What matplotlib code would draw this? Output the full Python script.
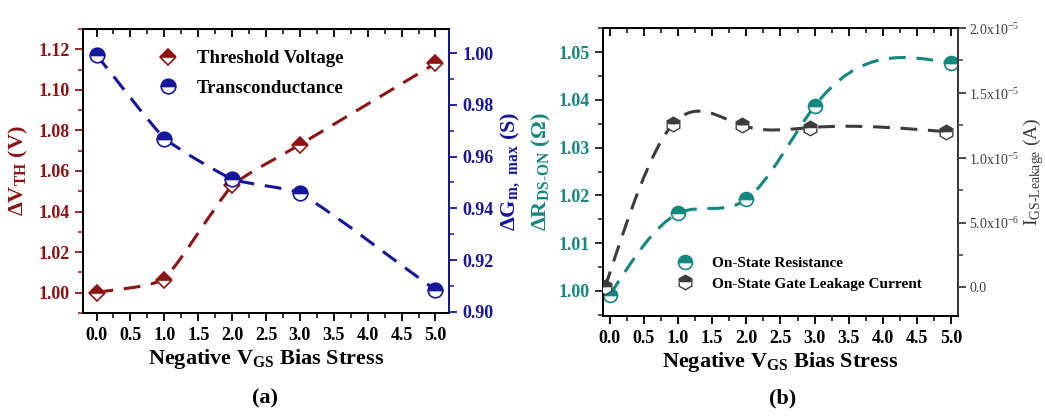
import numpy as np
import matplotlib
matplotlib.use("Agg")
import matplotlib.pyplot as plt
from matplotlib.path import Path
from matplotlib.patches import PathPatch
from matplotlib.ticker import MultipleLocator, FormatStrFormatter

plt.rcParams['font.family'] = ['Liberation Serif', 'DejaVu Serif']
plt.rcParams['mathtext.fontset'] = 'custom'
plt.rcParams['mathtext.rm'] = 'Liberation Serif'
plt.rcParams['mathtext.bf'] = 'Liberation Serif:bold'

# ---- data ----
stress = [0, 1, 2, 3, 5]
vth = [1.000, 1.0065, 1.053, 1.073, 1.113]
gm = [0.9993, 0.967, 0.9512, 0.946, 0.9084]

ron_x = [0, 1, 2, 3, 5]
ron = [0.9991, 1.0162, 1.0192, 1.0387, 1.0477]
leak_x = [-0.07, 0.93, 1.93, 2.93, 4.93]
leak = [0.0, 1.262e-5, 1.25e-5, 1.232e-5, 1.20e-5]

leak_ticks = [0, 5e-6, 1e-5, 1.5e-5, 2e-5]
leak_ticklabels = ['0.0', r'5.0x10$^{\mathregular{-6}}$', r'1.0x10$^{\mathregular{-5}}$',
                   r'1.5x10$^{\mathregular{-5}}$', r'2.0x10$^{\mathregular{-5}}$']

RED = '#8c1414'
BLUE = '#16169c'
TEAL = '#14877e'
GREY = '#3c3c3c'


def natural_slopes(x, y):
    n = len(x)
    h = np.diff(x)
    A = np.zeros((n, n))
    b = np.zeros(n)
    A[0, 0] = A[-1, -1] = 1
    for i in range(1, n - 1):
        A[i, i - 1] = h[i - 1]
        A[i, i] = 2 * (h[i - 1] + h[i])
        A[i, i + 1] = h[i]
        b[i] = 6 * ((y[i + 1] - y[i]) / h[i] - (y[i] - y[i - 1]) / h[i - 1])
    M = np.linalg.solve(A, b)
    s = np.diff(y) / h
    d0 = s - h * (2 * M[:-1] + M[1:]) / 6
    d1 = s + h * (M[:-1] + 2 * M[1:]) / 6
    return d0, d1


def cardinal_slopes(x, y, c):
    s = np.diff(y) / np.diff(x)
    m = np.empty(len(x))
    m[0], m[-1] = s[0], s[-1]
    m[1:-1] = c * (y[2:] - y[:-2]) / (x[2:] - x[:-2]) + (1 - c) * 0.5 * (s[:-1] + s[1:])
    return m[:-1], m[1:]


def curve_path(x, y, tension=None):
    # smooth connecting curve through the points, as bezier segments
    x = np.asarray(x, float)
    y = np.asarray(y, float)
    h = np.diff(x)
    if tension is None:
        d0, d1 = natural_slopes(x, y)
    else:
        d0, d1 = cardinal_slopes(x, y, tension)
        s = np.diff(y) / h
        d0 = tension * d0 + (1 - tension) * s
        d1 = tension * d1 + (1 - tension) * s
    verts = [(x[0], y[0])]
    codes = [Path.MOVETO]
    for i in range(len(x) - 1):
        verts += [(x[i] + h[i] / 3, y[i] + h[i] / 3 * d0[i]),
                  (x[i + 1] - h[i] / 3, y[i + 1] - h[i] / 3 * d1[i]),
                  (x[i + 1], y[i + 1])]
        codes += [Path.CURVE4] * 3
    return Path(verts, codes)


def dashed(ax, x, y, color, tension=None):
    ax.add_patch(PathPatch(curve_path(x, y, tension), fill=False, ec=color, lw=2.2,
                           ls=(0, (5.5, 3.5)), zorder=2))


def style_x(ax, lim):
    ax.set_xlim(*lim)
    ax.xaxis.set_major_locator(MultipleLocator(0.5))
    ax.xaxis.set_minor_locator(MultipleLocator(0.25))
    ax.xaxis.set_major_formatter(FormatStrFormatter('%.1f'))
    ax.tick_params(axis='x', which='major', direction='out', length=6, width=1.3,
                   labelsize=13, pad=4)
    ax.tick_params(axis='x', which='minor', direction='out', length=3.5, width=1.1)
    for t in ax.get_xticklabels():
        t.set_fontweight('bold')
    top = ax.secondary_xaxis('top')
    top.xaxis.set_major_locator(MultipleLocator(0.5))
    top.xaxis.set_minor_locator(MultipleLocator(0.25))
    top.tick_params(which='major', direction='in', length=6, width=1.3, labeltop=False)
    top.tick_params(which='minor', direction='in', length=3.5, width=1.1)
    ax.set_xlabel(r'Negative V$_\mathregular{GS}$ Bias Stress', fontsize=16,
                  fontweight='bold', labelpad=2)


def style_y(ax, color, side, major, minor):
    ax.yaxis.set_major_locator(MultipleLocator(major))
    ax.yaxis.set_minor_locator(MultipleLocator(minor))
    ax.tick_params(axis='y', which='major', direction='out', length=6, width=1.3,
                   colors=color, labelsize=13)
    ax.tick_params(axis='y', which='minor', direction='out', length=3.5, width=1.1,
                   colors=color)
    ax.spines[side].set_color(color)


fig = plt.figure(figsize=(10.45, 4.17), dpi=100)

# ---------------- panel (a) ----------------
ax1 = fig.add_axes([0.0794, 0.2494, 0.3503, 0.6811])
ax2 = ax1.twinx()
for a in (ax1, ax2):
    for s in a.spines.values():
        s.set_linewidth(1.4)

ax1.set_ylim(0.99, 1.13)
ax2.set_ylim(0.8995, 1.0094)
style_x(ax1, (-0.2, 5.2))
style_y(ax1, RED, 'left', 0.02, 0.01)
style_y(ax2, BLUE, 'right', 0.02, 0.01)
ax1.yaxis.set_major_formatter(FormatStrFormatter('%.2f'))
ax2.yaxis.set_major_formatter(FormatStrFormatter('%.2f'))
for t in ax1.get_yticklabels() + ax2.get_yticklabels():
    t.set_fontweight('bold')

dashed(ax1, stress, vth, RED, tension=0.35)
dashed(ax2, stress, gm, BLUE, tension=0.35)
ax1.plot(stress, vth, ls='none', marker='D', ms=8, fillstyle='top', mfc=RED,
         mfcalt='white', mec=RED, mew=1.2, zorder=3, label='Threshold Voltage')
ax2.plot(stress, gm, ls='none', marker='o', ms=10.5, fillstyle='top', mfc=BLUE,
         mfcalt='white', mec=BLUE, mew=1.2, zorder=3, label='Transconductance')

ax1.set_ylabel(r'ΔV$_\mathregular{TH}$ (V)', color=RED, fontsize=16,
               fontweight='bold', labelpad=6)
ax2.set_ylabel(r'ΔG$_\mathregular{m,\ max}$ (S)', color=BLUE, fontsize=16,
               fontweight='bold', labelpad=4)

h1, l1 = ax1.get_legend_handles_labels()
h2, l2 = ax2.get_legend_handles_labels()
ax2.legend(h1 + h2, l1 + l2, loc='upper left', bbox_to_anchor=(0.135, 0.985),
           frameon=False, numpoints=1, handletextpad=0.55, labelspacing=0.65,
           prop={'family': 'Liberation Serif', 'weight': 'bold', 'size': 13.5})

# ---------------- panel (b) ----------------
ax3 = fig.add_axes([0.577, 0.2422, 0.3397, 0.6907])
ax4 = ax3.twinx()
for a in (ax3, ax4):
    for s in a.spines.values():
        s.set_linewidth(1.4)

ax3.set_ylim(0.9947, 1.0551)
ax4.set_ylim(-2.2e-6, 2.0e-5)
style_x(ax3, (-0.1, 5.1))
style_y(ax3, TEAL, 'left', 0.01, 0.005)
ax3.spines['left'].set_color('#222222')
ax3.tick_params(axis='y', which='both', color='#222222')
ax3.yaxis.set_major_formatter(FormatStrFormatter('%.2f'))
for t in ax3.get_yticklabels():
    t.set_fontweight('bold')
style_y(ax4, GREY, 'right', 5e-6, 2.5e-6)
ax4.set_yticks(leak_ticks, leak_ticklabels)
ax4.tick_params(axis='y', labelsize=10, pad=2)

dashed(ax3, ron_x, ron, TEAL)
dashed(ax4, leak_x, leak, GREY)
ax3.plot(ron_x, ron, ls='none', marker='o', ms=10, fillstyle='top', mfc=TEAL,
         mfcalt='white', mec=TEAL, mew=1.2, zorder=3, label='On-State Resistance')
ax4.plot(leak_x, leak, ls='none', marker='h', ms=10.5, fillstyle='top', mfc=GREY,
         mfcalt='white', mec=GREY, mew=1.0, zorder=3,
         label='On-State Gate Leakage Current')

ax3.set_ylabel(r'ΔR$_\mathregular{DS\text{-}ON}$ (Ω)', color=TEAL, fontsize=16,
               fontweight='bold', labelpad=4)
ax4.set_ylabel(r'I$_\mathregular{GS\text{-}Leakage}$ (A)', color=GREY, fontsize=14)
ax4.yaxis.set_label_coords(1.178, 0.5)

h3, l3 = ax3.get_legend_handles_labels()
h4, l4 = ax4.get_legend_handles_labels()
ax4.legend(h3 + h4, l3 + l4, loc='lower left', bbox_to_anchor=(0.15, 0.04),
           frameon=False, numpoints=1, handletextpad=0.75, labelspacing=0.45,
           prop={'family': 'Liberation Serif', 'weight': 'bold', 'size': 11})

fig.text(0.254, 0.045, '(a)', ha='center', va='center', fontsize=16, fontweight='bold')
fig.text(0.749, 0.045, '(b)', ha='center', va='center', fontsize=16, fontweight='bold')

fig.savefig('out.png', dpi=100)
